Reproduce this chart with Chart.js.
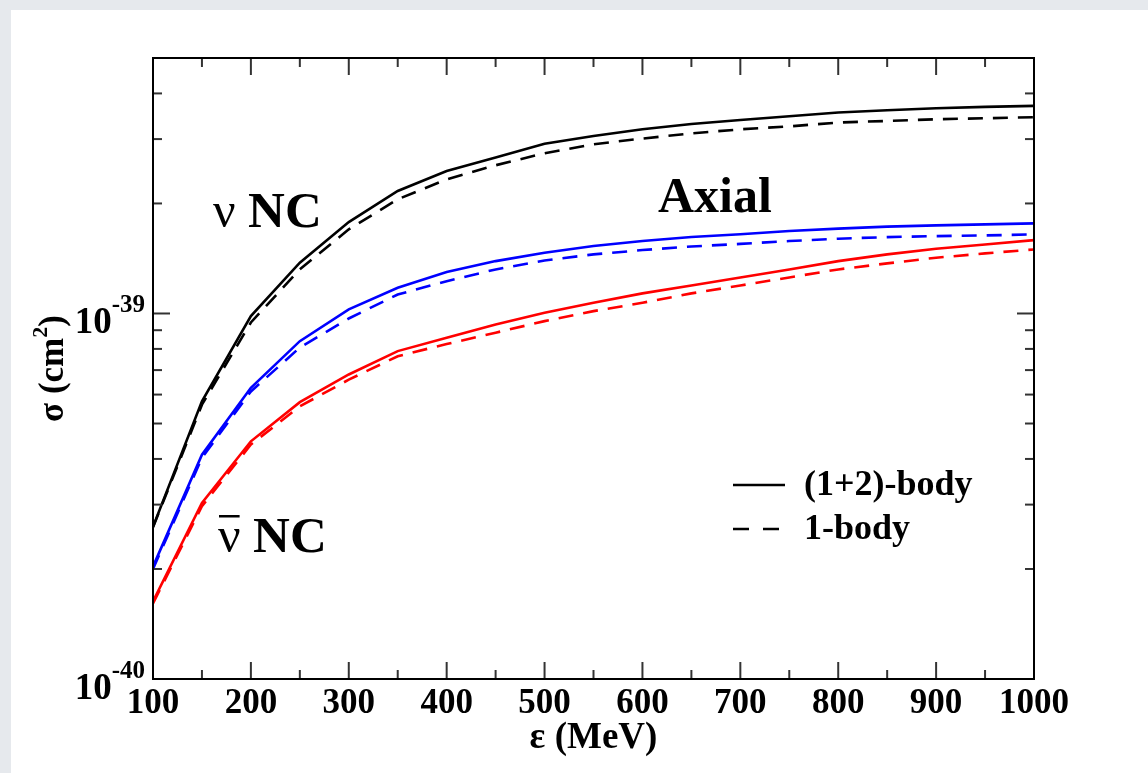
<!DOCTYPE html>
<html>
<head>
<meta charset="utf-8">
<script src="https://cdn.jsdelivr.net/npm/chart.js@4.4.0/dist/chart.umd.min.js"></script>
<style>
  html, body { margin: 0; padding: 0; background: #e6e9ed; }
  #wrap { position: absolute; left: 0; top: 0; width: 1148px; height: 773px; }
</style>
</head>
<body>
<div id="wrap"><canvas id="xsec" width="1148" height="773"></canvas></div>
<script>
// Energies (MeV) and cross sections in units of 1e-39 cm^2
const energies = [100, 150, 200, 250, 300, 350, 400, 450, 500, 550, 600, 650, 700, 750, 800, 850, 900, 950, 1000];

const nuFull    = [0.261, 0.575, 0.984, 1.377, 1.779, 2.163, 2.454, 2.671, 2.913, 3.060, 3.192, 3.300, 3.385, 3.465, 3.547, 3.599, 3.644, 3.675, 3.698];
const nuOne     = [0.260, 0.563, 0.945, 1.320, 1.699, 2.053, 2.328, 2.544, 2.744, 2.904, 3.010, 3.110, 3.190, 3.250, 3.330, 3.363, 3.400, 3.421, 3.443];
const midFull   = [0.203, 0.411, 0.626, 0.840, 1.026, 1.176, 1.298, 1.391, 1.466, 1.529, 1.578, 1.619, 1.648, 1.681, 1.707, 1.728, 1.742, 1.753, 1.764];
const midOne    = [0.200, 0.403, 0.612, 0.807, 0.969, 1.127, 1.226, 1.320, 1.397, 1.451, 1.491, 1.525, 1.550, 1.578, 1.602, 1.618, 1.628, 1.635, 1.646];
const nubarFull = [0.163, 0.303, 0.447, 0.572, 0.681, 0.789, 0.858, 0.933, 1.004, 1.070, 1.135, 1.193, 1.255, 1.320, 1.391, 1.451, 1.504, 1.545, 1.588];
const nubarOne  = [0.161, 0.297, 0.438, 0.557, 0.659, 0.764, 0.825, 0.886, 0.953, 1.015, 1.070, 1.135, 1.193, 1.255, 1.320, 1.371, 1.421, 1.460, 1.497];

// Axis ticks
const xMajorTicks = [100, 200, 300, 400, 500, 600, 700, 800, 900, 1000];
const xMinorTicks = [150, 250, 350, 450, 550, 650, 750, 850, 950];
const yMajorTicks = [0.1, 1];
const yMajorExp   = ['-40', '-39'];
const yMinorTicks = [0.2, 0.3, 0.4, 0.5, 0.6, 0.7, 0.8, 0.9, 2, 3, 4];

const SERIF = "'Liberation Serif', 'DejaVu Serif', serif";

const pts = arr => energies.map((e, i) => ({ x: e, y: arr[i] }));

function curve(arr, color, dashed) {
    return {
        data: pts(arr),
        borderColor: color,
        borderWidth: 2.6,
        borderDash: dashed ? [15, 10] : [],
        pointRadius: 0,
        tension: 0,
        fill: false
    };
}

// Page panel, frame, ticks, labels and annotations
const decorations = {
    id: 'decorations',
    beforeDraw(chart) {
        const ctx = chart.ctx;
        ctx.save();
        ctx.fillStyle = '#e6e9ed';
        ctx.fillRect(0, 0, chart.width, chart.height);
        ctx.fillStyle = '#ffffff';
        ctx.fillRect(11, 10, chart.width - 11, chart.height - 10);
        ctx.restore();
    },
    afterDraw(chart) {
        const { ctx, chartArea: a, scales: { x, y } } = chart;
        ctx.save();

        const seg = (x0, y0, x1, y1) => {
            ctx.beginPath(); ctx.moveTo(x0, y0); ctx.lineTo(x1, y1); ctx.stroke();
        };

        // inward ticks on all four sides
        ctx.strokeStyle = '#333';
        ctx.lineWidth = 2;
        xMajorTicks.forEach(v => { const p = x.getPixelForValue(v); seg(p, a.bottom, p, a.bottom - 17); seg(p, a.top, p, a.top + 17); });
        xMinorTicks.forEach(v => { const p = x.getPixelForValue(v); seg(p, a.bottom, p, a.bottom - 9); seg(p, a.top, p, a.top + 9); });
        yMajorTicks.forEach(v => { const p = y.getPixelForValue(v); seg(a.left, p, a.left + 17, p); seg(a.right, p, a.right - 17, p); });
        yMinorTicks.forEach(v => { const p = y.getPixelForValue(v); seg(a.left, p, a.left + 9, p); seg(a.right, p, a.right - 9, p); });

        ctx.strokeStyle = '#000';
        ctx.lineWidth = 2;
        ctx.strokeRect(a.left, a.top, a.right - a.left, a.bottom - a.top);

        ctx.fillStyle = '#000';

        // x tick labels
        ctx.font = 'bold 35px ' + SERIF;
        ctx.textAlign = 'center';
        ctx.textBaseline = 'alphabetic';
        xMajorTicks.forEach(v => ctx.fillText(String(v), x.getPixelForValue(v), a.bottom + 34));

        // y tick labels as powers of ten
        yMajorTicks.forEach((v, i) => {
            const p = y.getPixelForValue(v);
            ctx.textAlign = 'right';
            ctx.font = 'bold 25px ' + SERIF;
            const supRight = a.left - 8;
            ctx.fillText(yMajorExp[i], supRight, p - 1);
            const supW = ctx.measureText(yMajorExp[i]).width;
            ctx.font = 'bold 37px ' + SERIF;
            ctx.fillText('10', supRight - supW, p + 20);
        });

        // axis titles
        ctx.textAlign = 'center';
        ctx.font = 'bold 37px ' + SERIF;
        ctx.fillText('\u03b5 (MeV)', (a.left + a.right) / 2, 748);

        ctx.save();
        ctx.translate(63, (a.top + a.bottom) / 2);
        ctx.rotate(-Math.PI / 2);
        ctx.textAlign = 'left';
        ctx.font = 'bold 35px ' + SERIF;
        const partA = '\u03c3 (cm', partC = ')';
        const wA = ctx.measureText(partA).width, wC = ctx.measureText(partC).width;
        ctx.font = 'bold 22px ' + SERIF;
        const wB = ctx.measureText('2').width;
        let cx = -(wA + wB + wC) / 2;
        ctx.font = 'bold 35px ' + SERIF;
        ctx.fillText(partA, cx, 0);
        cx += wA;
        ctx.font = 'bold 22px ' + SERIF;
        ctx.fillText('2', cx, -16);
        cx += wB;
        ctx.font = 'bold 35px ' + SERIF;
        ctx.fillText(partC, cx, 0);
        ctx.restore();

        // curve annotations
        ctx.textAlign = 'left';
        ctx.font = '50px ' + SERIF;
        ctx.fillText('\u03bd', 213, 227);
        const nuW = ctx.measureText('\u03bd ').width;
        ctx.font = 'bold 51px ' + SERIF;
        ctx.fillText('NC', 213 + nuW, 227);

        ctx.font = '50px ' + SERIF;
        ctx.fillText('\u03bd', 218, 552);
        const nu2W = ctx.measureText('\u03bd').width;
        ctx.fillRect(219, 515, nu2W - 2, 2.5);
        const gapW = ctx.measureText(' ').width;
        ctx.font = 'bold 51px ' + SERIF;
        ctx.fillText('NC', 218 + gapW + nu2W, 552);

        ctx.font = 'bold 50px ' + SERIF;
        ctx.fillText('Axial', 658, 212);

        // legend
        ctx.strokeStyle = '#000';
        ctx.lineWidth = 2.6;
        seg(733, 485, 785, 485);
        ctx.setLineDash([16, 14]);
        seg(733, 529, 779, 529);
        ctx.setLineDash([]);
        ctx.font = 'bold 36px ' + SERIF;
        ctx.fillText('(1+2)-body', 804, 495);
        ctx.fillText('1-body', 804, 539);

        ctx.restore();
    }
};

new Chart(document.getElementById('xsec'), {
    type: 'line',
    data: {
        datasets: [
            curve(nuFull, '#000000', false),
            curve(nuOne, '#000000', true),
            curve(midFull, '#0000ff', false),
            curve(midOne, '#0000ff', true),
            curve(nubarFull, '#ff0000', false),
            curve(nubarOne, '#ff0000', true)
        ]
    },
    options: {
        responsive: false,
        animation: false,
        layout: { padding: { left: 153, right: 114, top: 58, bottom: 94 } },
        plugins: { legend: { display: false }, tooltip: { enabled: false } },
        scales: {
            x: { type: 'linear', min: 100, max: 1000, display: false },
            y: { type: 'logarithmic', min: 0.1, max: 5, display: false }
        }
    },
    plugins: [decorations]
});
</script>
</body>
</html>
